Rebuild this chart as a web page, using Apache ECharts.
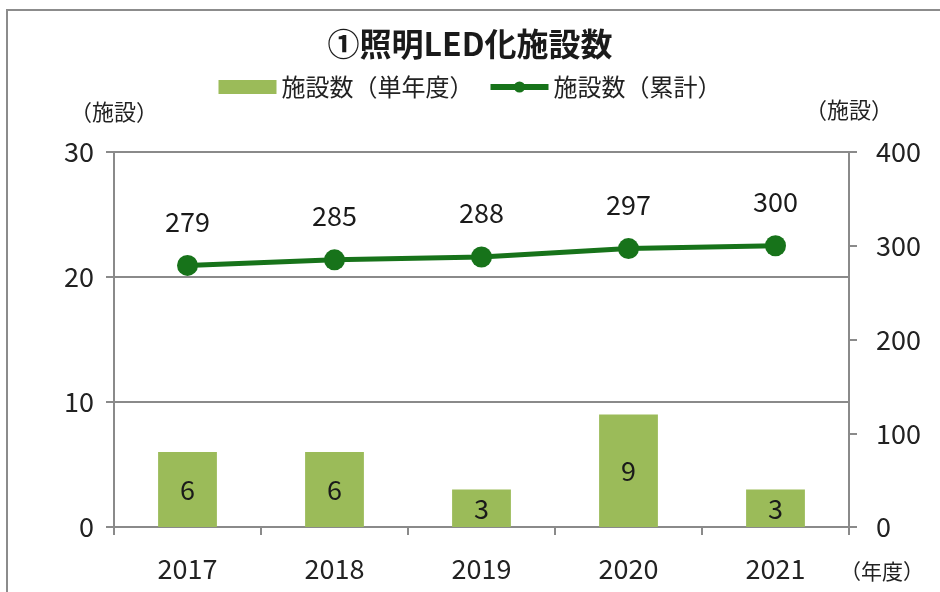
<!DOCTYPE html>
<html>
<head>
<meta charset="utf-8">
<script src="https://cdn.jsdelivr.net/npm/echarts@6/dist/echarts.min.js"></script>
<style>
  html, body { margin: 0; padding: 0; background: #fff; }
  #chart { width: 940px; height: 592px; }
</style>
</head>
<body>
<div id="chart"></div>
<script>
// データ
var years = ['2017', '2018', '2019', '2020', '2021'];
var yearly = [6, 6, 3, 9, 3];          // 施設数（単年度）
var total = [279, 285, 288, 297, 300]; // 施設数（累計）

var font = '"Noto Sans CJK JP", "Noto Sans", sans-serif';
var chart = echarts.init(document.getElementById('chart'));

chart.setOption({
    animation: false,
    backgroundColor: '#fff',
    textStyle: { fontFamily: font },
    title: {
        text: '①照明LED化施設数',
        left: 'center',
        top: 23,
        textStyle: { fontSize: 32, fontWeight: 'bold', color: '#1a1a1a', fontFamily: font }
    },
    legend: {
        top: 70,
        left: 'center',
        itemGap: 14,
        itemWidth: 58,
        itemHeight: 14,
        textStyle: { fontSize: 24, color: '#222', fontFamily: font },
        data: [
            { name: '施設数（単年度）', icon: 'rect' },
            { name: '施設数（累計）', lineStyle: { width: 6 } }
        ]
    },
    graphic: [
        {
            type: 'rect', silent: true, z: -1,
            shape: { x: 7, y: 10, width: 960, height: 620 },
            style: { fill: 'none', stroke: '#8c8c8c', lineWidth: 2 }
        },
        {
            type: 'text', left: 840, top: 561,
            style: { text: '（年度）', fill: '#222', font: '21px ' + font }
        }
    ],
    grid: { left: 114, right: 91, top: 152, bottom: 65 },
    xAxis: {
        type: 'category',
        data: years,
        axisLine: { lineStyle: { color: '#8a8a8a', width: 2 } },
        axisTick: { show: true, length: 8, lineStyle: { color: '#8a8a8a', width: 2 } },
        axisLabel: { fontSize: 27, color: '#222', margin: 28 }
    },
    yAxis: [
        {
            type: 'value', min: 0, max: 30, interval: 10,
            name: '（施設）', nameLocation: 'end', nameGap: 29,
            nameTextStyle: { fontSize: 22, color: '#222', align: 'center' },
            axisLine: { show: true, lineStyle: { color: '#8a8a8a', width: 2 } },
            axisTick: { show: true, length: 8, lineStyle: { color: '#8a8a8a', width: 2 } },
            axisLabel: { fontSize: 27, color: '#222', margin: 20 },
            splitLine: { show: true, lineStyle: { color: '#8a8a8a', width: 2 } }
        },
        {
            type: 'value', min: 0, max: 400, interval: 100,
            name: '（施設）', nameLocation: 'end', nameGap: 31,
            nameTextStyle: { fontSize: 22, color: '#222', align: 'center' },
            axisLine: { show: true, lineStyle: { color: '#8a8a8a', width: 2 } },
            axisTick: { show: true, length: 8, lineStyle: { color: '#8a8a8a', width: 2 } },
            axisLabel: { fontSize: 27, color: '#222', margin: 27 },
            splitLine: { show: false }
        }
    ],
    series: [
        {
            name: '施設数（単年度）',
            type: 'bar',
            data: yearly,
            barWidth: '40%',
            itemStyle: { color: '#9bbb59' },
            label: { show: true, position: 'inside', fontSize: 27, color: '#1a1a1a' }
        },
        {
            name: '施設数（累計）',
            type: 'line',
            yAxisIndex: 1,
            data: total,
            symbol: 'circle',
            symbolSize: 21,
            lineStyle: { color: '#17731a', width: 5 },
            itemStyle: { color: '#17731a' },
            label: { show: true, position: 'top', distance: 20, fontSize: 27, color: '#1a1a1a' }
        }
    ]
});
</script>
</body>
</html>
